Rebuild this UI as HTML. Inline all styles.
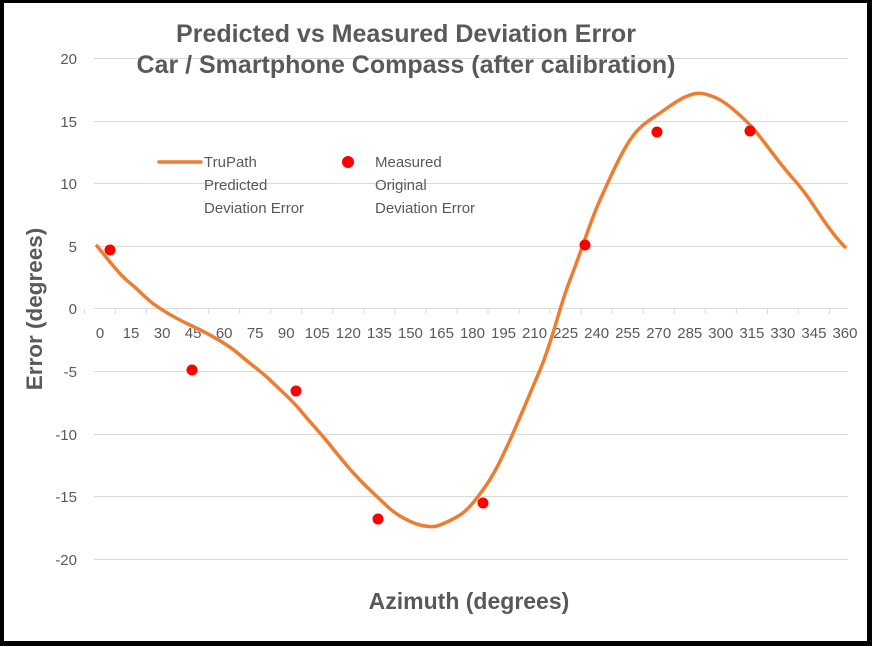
<!DOCTYPE html><html><head><style>body{margin:0;background:#fff}svg{display:block}</style></head><body>
<svg width="872" height="646" xmlns="http://www.w3.org/2000/svg" font-family="Liberation Sans, sans-serif">
<rect x="0" y="0" width="872" height="646" fill="#000"/>
<rect x="4" y="3" width="863" height="638" fill="#fff"/>
<g stroke="#d9d9d9" stroke-width="1">
<line x1="94" x2="848" y1="58.5" y2="58.5"/><line x1="94" x2="848" y1="121.5" y2="121.5"/><line x1="94" x2="848" y1="183.5" y2="183.5"/><line x1="94" x2="848" y1="246.5" y2="246.5"/><line x1="94" x2="848" y1="371.5" y2="371.5"/><line x1="94" x2="848" y1="434.5" y2="434.5"/><line x1="94" x2="848" y1="496.5" y2="496.5"/><line x1="94" x2="848" y1="559.5" y2="559.5"/>
<line x1="94" x2="848" y1="308.5" y2="308.5"/>
</g>
<g stroke="#d9d9d9" id="ticks"></g>
<g fill="#595959" font-size="15" text-anchor="end">
<text x="77" y="64">20</text><text x="77" y="127">15</text><text x="77" y="189">10</text><text x="77" y="252">5</text><text x="77" y="314">0</text><text x="77" y="377">-5</text><text x="77" y="440">-10</text><text x="77" y="502">-15</text><text x="77" y="565">-20</text>
</g>
<g fill="#595959" font-size="15" text-anchor="middle" id="xl"></g>
<g fill="#595959" font-weight="bold" font-size="25" text-anchor="middle">
<text x="406" y="42">Predicted vs Measured Deviation Error</text>
<text x="406" y="73">Car / Smartphone Compass (after calibration)</text>
</g>
<text x="469" y="609" fill="#595959" font-weight="bold" font-size="23" text-anchor="middle">Azimuth (degrees)</text>
<text transform="translate(42,309) rotate(-90)" fill="#595959" font-weight="bold" font-size="22.5" text-anchor="middle">Error (degrees)</text>
<path d="M97,246 C110,262 120,275 130,283 S145,298 155,305 S175,318 190,325 S225,342 240,355 S262,372 270,380 S292,400 300,410 S318,430 330,445 S355,476 370,490 S390,510 400,516 S418,525 425,526 S435,527 440,525 S452,520 460,515 S476,500 485,487 S500,462 510,440 S528,398 540,370 S560,305 570,280 S590,222 600,200 S620,155 630,140 S650,120 660,113 S678,100 685,97 S698,92 705,94 S718,98 725,103 S740,115 750,125 S775,158 790,175 S810,200 820,215 S838,240 845,247" fill="none" stroke="#ed7d31" stroke-width="3.5" stroke-linecap="round"/>
<g fill="#ff0000">
<circle cx="110" cy="250" r="5.5"/><circle cx="192" cy="370" r="5.5"/><circle cx="296" cy="391" r="5.5"/><circle cx="378" cy="519" r="5.5"/><circle cx="483" cy="503" r="5.5"/><circle cx="585" cy="245" r="5.5"/><circle cx="657" cy="132" r="5.5"/><circle cx="750" cy="131" r="5.5"/>
<circle cx="348" cy="162" r="6"/>
</g>
<line x1="159" x2="201" y1="162" y2="162" stroke="#ed7d31" stroke-width="3.5" stroke-linecap="round"/>
<g fill="#595959" font-size="15">
<text x="204" y="167">TruPath</text><text x="204" y="190">Predicted</text><text x="204" y="213">Deviation Error</text>
<text x="375" y="167">Measured</text><text x="375" y="190">Original</text><text x="375" y="213">Deviation Error</text>
</g>
<script>
var t=document.getElementById('ticks'),l=document.getElementById('xl'),ns='http://www.w3.org/2000/svg';
for(var i=0;i<=24;i++){var x=100+i*31.04;
var ln=document.createElementNS(ns,'line');ln.setAttribute('x1',x.toFixed(1)-15.5);ln.setAttribute('x2',x.toFixed(1)-15.5);ln.setAttribute('y1',309);ln.setAttribute('y2',314);t.appendChild(ln);
var tx=document.createElementNS(ns,'text');tx.setAttribute('x',x);tx.setAttribute('y',338);tx.textContent=i*15;l.appendChild(tx);}
</script>
</svg></body></html>
